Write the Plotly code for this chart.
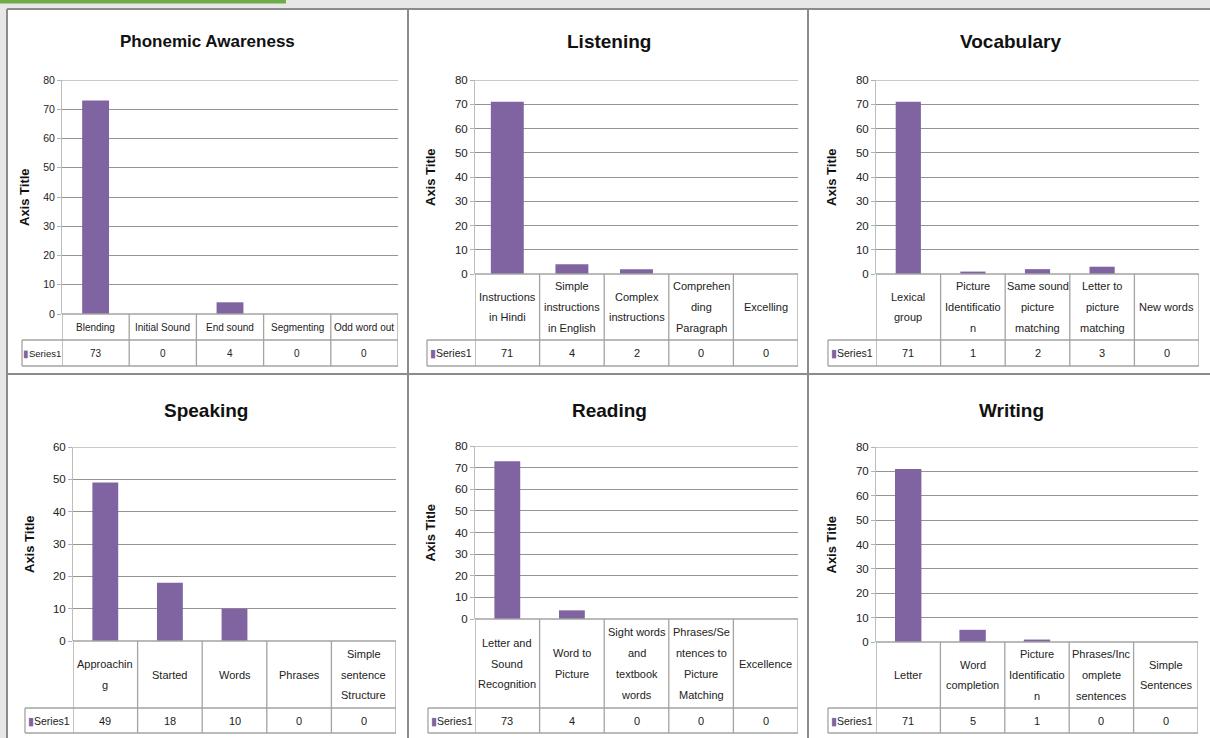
import plotly.graph_objects as go

# ---------------- data ----------------
pa_cats = ["Blending", "Initial Sound", "End sound", "Segmenting", "Odd word out"]
pa_labels = ["Blending", "Initial Sound", "End sound", "Segmenting", "Odd word out"]
pa_vals = [73, 0, 4, 0, 0]

li_cats = ["Instructions in Hindi", "Simple instructions in English", "Complex instructions",
           "Comprehending Paragraph", "Excelling"]
li_labels = ["Instructions<br>in Hindi", "Simple<br>instructions<br>in English", "Complex<br>instructions",
             "Comprehen<br>ding<br>Paragraph", "Excelling"]
li_vals = [71, 4, 2, 0, 0]

vo_cats = ["Lexical group", "Picture Identification", "Same sound picture matching",
           "Letter to picture matching", "New words"]
vo_labels = ["Lexical<br>group", "Picture<br>Identificatio<br>n", "Same sound<br>picture<br>matching",
             "Letter to<br>picture<br>matching", "New words"]
vo_vals = [71, 1, 2, 3, 0]

sp_cats = ["Approaching", "Started", "Words", "Phrases", "Simple sentence Structure"]
sp_labels = ["Approachin<br>g", "Started", "Words", "Phrases", "Simple<br>sentence<br>Structure"]
sp_vals = [49, 18, 10, 0, 0]

re_cats = ["Letter and Sound Recognition", "Word to Picture", "Sight words and textbook words",
           "Phrases/Sentences to Picture Matching", "Excellence"]
re_labels = ["Letter and<br>Sound<br>Recognition", "Word to<br>Picture", "Sight words<br>and<br>textbook<br>words",
             "Phrases/Se<br>ntences to<br>Picture<br>Matching", "Excellence"]
re_vals = [73, 4, 0, 0, 0]

wr_cats = ["Letter", "Word completion", "Picture Identification", "Phrases/Incomplete sentences",
           "Simple Sentences"]
wr_labels = ["Letter", "Word<br>completion", "Picture<br>Identificatio<br>n", "Phrases/Inc<br>omplete<br>sentences",
             "Simple<br>Sentences"]
wr_vals = [71, 5, 1, 0, 0]

titles = ["Phonemic Awareness", "Listening", "Vocabulary", "Speaking", "Reading", "Writing"]
series_name = "Series1"
axis_title = "Axis Title"

# ---------------- layout geometry (pixels) ----------------
W, H = 1210, 738
def px(x): return x / W
def py(y): return 1 - y / H

FONT = "Liberation Sans, Arial, sans-serif"
BAR = "#8064A2"
GRID = "#949494"
TBL = "#a3a3a3"

panels = [
    dict(cats=pa_cats, labels=pa_labels, vals=pa_vals, ymax=80, x0=62, x1=398, yt=80, yb=314, rb=340, tb=366,
         tl=22, tx=207, ty=41, axx=24, bw=0.40, fs=10, tkfs=10.5, tfs=17),
    dict(cats=li_cats, labels=li_labels, vals=li_vals, ymax=80, x0=475, x1=798, yt=80, yb=274, rb=340, tb=366,
         tl=427, tx=609, ty=42, axx=430, bw=0.51, fs=11, tkfs=11.5, tfs=19),
    dict(cats=vo_cats, labels=vo_labels, vals=vo_vals, ymax=80, x0=876, x1=1199, yt=80, yb=274, rb=340, tb=366,
         tl=828, tx=1010, ty=42, axx=831, bw=0.39, fs=11, tkfs=11.5, tfs=19),
    dict(cats=sp_cats, labels=sp_labels, vals=sp_vals, ymax=60, x0=73, x1=396, yt=447, yb=641, rb=708, tb=733,
         tl=25, tx=206, ty=410, axx=29, bw=0.40, fs=11, tkfs=11.5, tfs=19),
    dict(cats=re_cats, labels=re_labels, vals=re_vals, ymax=80, x0=475, x1=798, yt=446, yb=619, rb=708, tb=733,
         tl=428, tx=609, ty=410, axx=430, bw=0.40, fs=11, tkfs=11.5, tfs=19),
    dict(cats=wr_cats, labels=wr_labels, vals=wr_vals, ymax=80, x0=876, x1=1198, yt=447, yb=642, rb=708, tb=733,
         tl=828, tx=1011, ty=410, axx=831, bw=0.41, fs=11, tkfs=11.5, tfs=19),
]

fig = go.Figure()
shapes = []
annotations = []

# slide background: panels (white) with shared grey grid lines, green strip
shapes.append(dict(type="rect", xref="paper", yref="paper", x0=px(7), x1=1, y0=0, y1=py(9),
                   fillcolor="white", line=dict(width=0), layer="below"))
shapes.append(dict(type="rect", xref="paper", yref="paper", x0=0, x1=px(286), y0=py(3.5), y1=1,
                   fillcolor="#6fac46", line=dict(width=0), layer="below"))
for gx in [7, 408, 808]:
    shapes.append(dict(type="line", xref="paper", yref="paper", x0=px(gx), x1=px(gx), y0=0, y1=py(9),
                       line=dict(color="#8c8c8c", width=2), layer="below"))
for gy in [9, 374]:
    shapes.append(dict(type="line", xref="paper", yref="paper", x0=px(7), x1=1, y0=py(gy), y1=py(gy),
                       line=dict(color="#8c8c8c", width=2), layer="below"))

LINE_H = 20.8
for i, p in enumerate(panels):
    n = i + 1
    xa = "x" if n == 1 else f"x{n}"
    ya = "y" if n == 1 else f"y{n}"
    fig.add_trace(go.Bar(x=p["cats"], y=p["vals"], width=p["bw"], marker=dict(color=BAR, line=dict(width=0)),
                         xaxis=xa, yaxis=ya, showlegend=False, hoverinfo="skip"))
    fig.update_layout(**{
        ("xaxis" if n == 1 else f"xaxis{n}"): dict(
            domain=[px(p["x0"]), px(p["x1"])], type="category", categoryorder="array", categoryarray=p["cats"],
            range=[-0.5, 4.5], showticklabels=False, showgrid=False, zeroline=False, showline=False,
            ticks="", anchor=ya, fixedrange=True, automargin=False),
        ("yaxis" if n == 1 else f"yaxis{n}"): dict(
            domain=[py(p["yb"]), py(p["yt"])], range=[0, p["ymax"]], dtick=10, showgrid=True,
            gridcolor=GRID, gridwidth=1.2, zeroline=False, showline=True, linecolor="#bdbdbd", linewidth=1,
            ticks="outside", ticklen=4, tickcolor="#b0b0b0",
            tickfont=dict(family=FONT, size=p["tkfs"], color="#222"), anchor=xa, fixedrange=True,
            automargin=False),
    })
    # top gridline (max value)
    shapes.append(dict(type="line", xref=f"{xa} domain", yref=ya, x0=0, x1=1, y0=p["ymax"], y1=p["ymax"],
                       line=dict(color=GRID, width=1.2)))
    # data table lines
    for yy, xl in [(p["yb"], p["x0"]), (p["rb"], p["tl"]), (p["tb"], p["tl"])]:
        shapes.append(dict(type="line", xref="paper", yref="paper", x0=px(xl), x1=px(p["x1"]),
                           y0=py(yy), y1=py(yy), line=dict(color=TBL, width=1.3)))
    for k in range(6):
        shapes.append(dict(type="line", xref=xa, yref="paper", x0=k - 0.5, x1=k - 0.5,
                           y0=py(p["yb"]), y1=py(p["tb"]), line=dict(color=TBL, width=1.3)))
    shapes.append(dict(type="line", xref="paper", yref="paper", x0=px(p["tl"]), x1=px(p["tl"]),
                       y0=py(p["rb"]), y1=py(p["tb"]), line=dict(color=TBL, width=1.3)))

    # title
    annotations.append(dict(xref="paper", yref="paper", x=px(p["tx"]), y=py(p["ty"]), text=f"<b>{titles[i]}</b>",
                            showarrow=False, xanchor="center", yanchor="middle",
                            font=dict(family=FONT, size=p["tfs"], color="#111")))
    # axis title
    annotations.append(dict(xref="paper", yref="paper", x=px(p["axx"]), y=py((p["yt"] + p["yb"]) / 2),
                            text=f"<b>{axis_title}</b>", textangle=-90, showarrow=False,
                            xanchor="center", yanchor="middle", font=dict(family=FONT, size=13, color="#111")))
    # category labels (one annotation per line, Excel-like line spacing)
    rc = (p["yb"] + p["rb"]) / 2
    for c, lab in zip(p["cats"], p["labels"]):
        lines = lab.split("<br>")
        m = len(lines)
        for j, t in enumerate(lines):
            yy = rc + (j - (m - 1) / 2) * LINE_H
            annotations.append(dict(xref=xa, yref="paper", x=c, y=py(yy), text=t, showarrow=False,
                                    xanchor="center", yanchor="middle",
                                    font=dict(family=FONT, size=p["fs"], color="#222")))
    # value row
    vc = (p["rb"] + p["tb"]) / 2
    for c, v in zip(p["cats"], p["vals"]):
        annotations.append(dict(xref=xa, yref="paper", x=c, y=py(vc), text=str(v), showarrow=False,
                                xanchor="center", yanchor="middle",
                                font=dict(family=FONT, size=p["fs"], color="#222")))
    annotations.append(dict(xref="paper", yref="paper", x=px((p["tl"] + p["x0"]) / 2), y=py(vc),
                            text=f'<span style="color:{BAR}">▮</span>{series_name}', showarrow=False,
                            xanchor="center", yanchor="middle",
                            font=dict(family=FONT, size=p["fs"] - 0.5, color="#222")))

fig.update_layout(width=W, height=H, margin=dict(l=0, r=0, t=0, b=0, pad=0, autoexpand=False), autosize=False,
                  paper_bgcolor="#e7e7e5", plot_bgcolor="white", bargap=0.6,
                  shapes=shapes, annotations=annotations, showlegend=False)

fig.write_html("out.html", config={"displayModeBar": False})
